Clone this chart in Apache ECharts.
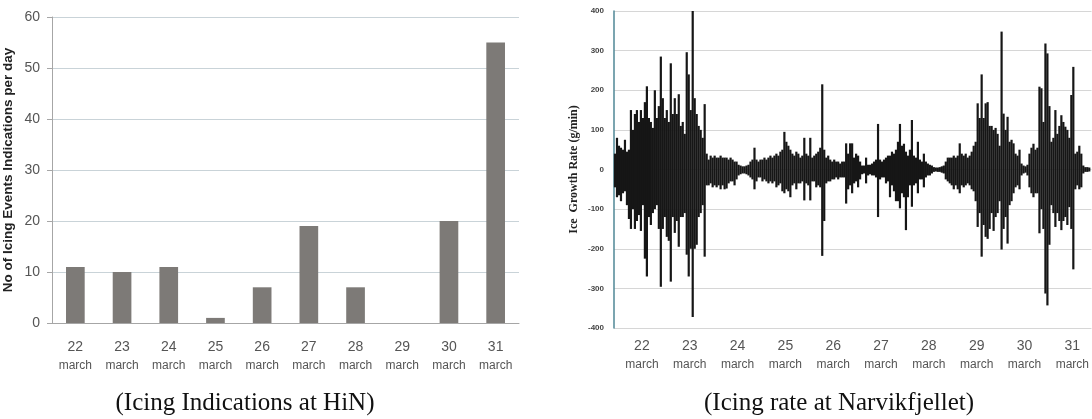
<!DOCTYPE html>
<html>
<head>
<meta charset="utf-8">
<script src="https://cdn.jsdelivr.net/npm/echarts@6/dist/echarts.min.js"></script>
<style>
  html, body { margin: 0; padding: 0; background: #fff; }
  #chart { width: 1092px; height: 419px; }
</style>
</head>
<body>
<div id="chart"></div>
<script>
// days shown on both charts (march)
const days = ['22', '23', '24', '25', '26', '27', '28', '29', '30', '31'];

// left: icing events indications per day at HiN
const icingEvents = [11, 10, 11, 1, 7, 19, 7, 0, 20, 55];

// right: hourly max / min ice growth rate (g/min) at Narvikfjellet,
// first value is 21 march 22:00
const rateStart = 21 + 22 / 24;
const rateMax = [
  40, 80, 60, 55, 50, 75, 45, 50, 150, 100,
  140, 150, 120, 150, 130, 170, 210, 130, 120, 105,
  200, 130, 160, 285, 180, 130, 150, 120, 268, 140,
  180, 140, 190, 110, 120, 90, 296, 240, 150, 400,
  180, 140, 110, 100, 80, 165, 40, 25, 35, 30,
  35, 30, 30, 35, 30, 30, 30, 25, 30, 25,
  20, 20, 12, 10, 8, 8, 10, 12, 20, 25,
  55, 25, 20, 25, 25, 30, 25, 30, 35, 30,
  35, 40, 35, 45, 50, 95, 70, 60, 50, 40,
  35, 45, 40, 30, 35, 80, 40, 35, 80, 30,
  35, 40, 45, 55, 215, 50, 30, 35, 25, 20,
  25, 20, 20, 15, 20, 20, 66, 40, 66, 66,
  30, 40, 35, 20, 10, 10, 30, 12, 12, 15,
  20, 25, 115, 25, 20, 25, 30, 35, 35, 45,
  40, 50, 70, 115, 60, 65, 45, 35, 50, 125,
  35, 30, 70, 25, 20, 40, 20, 15, 12, 10,
  6, 5, 5, 6, 8, 10, 20, 30, 30, 30,
  35, 30, 35, 66, 40, 35, 40, 30, 35, 45,
  60, 70, 167, 130, 240, 130, 167, 170, 110, 110,
  100, 105, 90, 60, 348, 141, 100, 133, 70, 75,
  66, 40, 35, 50, 15, 10, 8, 12, 40, 55,
  65, 50, 55, 209, 205, 120, 318, 293, 160, 70,
  80, 150, 90, 110, 137, 120, 108, 100, 80, 188,
  259, 40, 45, 60, 40, 10, 6, 6, 5
];
const rateMin = [
  -45, -70, -65, -80, -60, -55, -90, -125, -150, -100,
  -150, -130, -115, -155, -90, -225, -270, -120, -140, -110,
  -100, -90, -150, -296, -150, -120, -170, -180, -283, -120,
  -160, -130, -195, -120, -120, -110, -215, -270, -200, -372,
  -200, -190, -120, -110, -90, -220, -40, -40, -35, -45,
  -40, -45, -40, -50, -40, -50, -48, -35, -30, -30,
  -40, -25, -15, -12, -10, -10, -12, -15, -20, -25,
  -50, -30, -20, -20, -30, -25, -30, -35, -30, -35,
  -30, -45, -40, -35, -55, -60, -50, -55, -70, -40,
  -35, -50, -35, -35, -30, -78, -35, -40, -78, -30,
  -30, -45, -40, -45, -218, -130, -35, -30, -30, -25,
  -25, -20, -25, -20, -20, -20, -86, -50, -40, -60,
  -35, -30, -45, -25, -12, -10, -35, -15, -12, -15,
  -15, -20, -120, -25, -20, -20, -35, -30, -70, -40,
  -55, -80, -80, -98, -60, -70, -153, -70, -40, -94,
  -40, -35, -60, -25, -25, -45, -20, -15, -15, -10,
  -6, -5, -6, -6, -8, -10, -25, -30, -35, -40,
  -50, -40, -50, -60, -40, -45, -40, -35, -40, -50,
  -55, -80, -145, -110, -220, -140, -170, -175, -150, -110,
  -155, -120, -110, -80, -202, -150, -120, -187, -90, -80,
  -60, -45, -40, -50, -15, -10, -8, -15, -45, -60,
  -70, -60, -60, -161, -100, -150, -313, -343, -190, -90,
  -110, -145, -110, -130, -153, -130, -120, -140, -95, -150,
  -252, -50, -40, -50, -45, -10, -6, -6, -5
];

// [hour centre, min, max] for every hour
const rateRange = rateMax.map((v, i) => [rateStart + (i + 0.5) / 24, rateMin[i], v]);

const chart = echarts.init(document.getElementById('chart'));

const dayLabel = {
  rich: {
    d: { fontFamily: 'Liberation Sans', fontSize: 14, color: '#555', lineHeight: 20 },
    m: { fontFamily: 'Liberation Sans', fontSize: 12, color: '#555', lineHeight: 18 }
  }
};

function drawRange(params, api) {
  const hi = api.coord([api.value(0), api.value(2)]);
  const lo = api.coord([api.value(0), api.value(1)]);
  return {
    type: 'rect',
    shape: { x: hi[0] - 1.1, y: hi[1], width: 2.2, height: lo[1] - hi[1] },
    style: { fill: '#161616' }
  };
}

const option = {
  animation: false,
  backgroundColor: '#fff',
  grid: [
    { left: 52, top: 17, width: 467, height: 306 },
    { left: 614, top: 11, right: 0, height: 317 }
  ],
  xAxis: [
    {
      gridIndex: 0,
      type: 'category',
      data: days,
      axisLine: { lineStyle: { color: '#a6a6a6' } },
      axisTick: { length: 5, lineStyle: { color: '#a6a6a6' } },
      axisLabel: Object.assign({
        interval: 0,
        margin: 14,
        formatter: v => '{d|' + v + '}\n{m|march}'
      }, dayLabel)
    },
    {
      gridIndex: 1,
      type: 'value',
      min: rateStart,
      max: 31.9,
      splitLine: { show: false },
      axisLine: { show: false },
      axisTick: { show: false },
      axisLabel: Object.assign({
        margin: 8,
        customValues: days.map(d => +d + 0.5),
        formatter: v => '{d|' + Math.floor(v) + '}\n{m|march}'
      }, dayLabel)
    }
  ],
  yAxis: [
    {
      gridIndex: 0,
      type: 'value',
      min: 0,
      max: 60,
      interval: 10,
      name: 'No of Icing Events Indications per day',
      nameLocation: 'middle',
      nameGap: 37,
      nameTextStyle: { fontFamily: 'Liberation Sans', fontWeight: 'bold', fontSize: 13.5, color: '#222' },
      axisLine: { show: true, lineStyle: { color: '#a6a6a6' } },
      axisTick: { show: true, length: 5, lineStyle: { color: '#a6a6a6' } },
      axisLabel: { fontFamily: 'Liberation Sans', fontSize: 14, color: '#555', margin: 12 },
      splitLine: { lineStyle: { color: '#c9d3d8' } }
    },
    {
      gridIndex: 1,
      type: 'value',
      min: -400,
      max: 400,
      interval: 100,
      name: 'Ice  Growth Rate (g/min)',
      nameLocation: 'middle',
      nameGap: 34,
      nameTextStyle: { fontFamily: 'Liberation Serif', fontWeight: 'bold', fontSize: 12, color: '#222' },
      axisLine: { show: true, onZero: false, lineStyle: { color: '#4f8796', width: 1.5 } },
      axisTick: { show: false },
      axisLabel: { fontFamily: 'Liberation Sans', fontWeight: 'bold', fontSize: 8, color: '#444', margin: 10 },
      splitLine: { lineStyle: { color: '#d6d6d6' } }
    }
  ],
  series: [
    {
      type: 'bar',
      xAxisIndex: 0,
      yAxisIndex: 0,
      data: icingEvents,
      barWidth: '40%',
      itemStyle: { color: '#7d7a77' }
    },
    {
      type: 'custom',
      xAxisIndex: 1,
      yAxisIndex: 1,
      data: rateRange,
      encode: { x: 0, y: [1, 2] },
      renderItem: drawRange
    }
  ],
  graphic: [
    {
      type: 'text',
      x: 245,
      y: 403,
      style: {
        text: '(Icing Indications at HiN)',
        font: '25px "Liberation Serif"',
        fill: '#111',
        align: 'center',
        verticalAlign: 'middle',
        textAlign: 'center',
        textVerticalAlign: 'middle'
      }
    },
    {
      type: 'text',
      x: 839,
      y: 403,
      style: {
        text: '(Icing rate at Narvikfjellet)',
        font: '25px "Liberation Serif"',
        fill: '#111',
        align: 'center',
        verticalAlign: 'middle',
        textAlign: 'center',
        textVerticalAlign: 'middle'
      }
    }
  ]
};

chart.setOption(option);
</script>
</body>
</html>
